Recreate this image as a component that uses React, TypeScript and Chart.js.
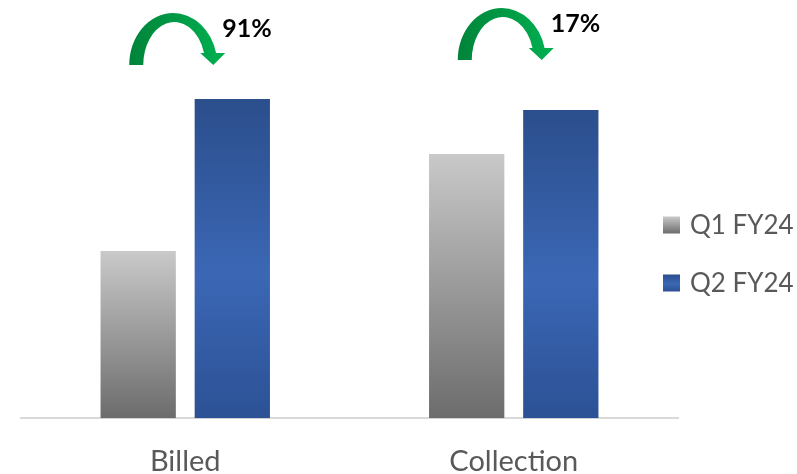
import React, { useEffect, useRef } from "react";
import { Chart, registerables } from "chart.js";

Chart.register(...registerables);

// ---- Data ----
const categories = ["Billed", "Collection"];
const seriesNames = ["Q1 FY24", "Q2 FY24"];
const q1Values = [167, 264];
const q2Values = [319, 308];
const growthLabels = ["91%", "17%"];
const yMax = 338;

// ---- Style ----
const FONT = "Lato, 'Open Sans', sans-serif";
const TEXT_GREY = "#595959";
const grayStops: [number, string][] = [
  [0, "#C9C9C9"],
  [1, "#6C6C6C"],
];
const blueStops: [number, string][] = [
  [0, "#2B4E8C"],
  [0.55, "#3B67B5"],
  [1, "#2C5195"],
];
const arrowBottoms = [65, 60];
const legendRows = [225, 283];

const makeFill = (stops: [number, string][]) => (context: any) => {
  const chart = context.chart;
  const { ctx, chartArea, scales } = chart;
  if (!chartArea || context.type !== "data" || !scales.y) return stops[0][1];
  const top = scales.y.getPixelForValue(context.raw);
  const bottom = scales.y.getPixelForValue(0);
  const g = ctx.createLinearGradient(0, top, 0, bottom);
  stops.forEach(([o, c]) => g.addColorStop(o, c));
  return g;
};

function drawArrow(ctx: CanvasRenderingContext2D, cx: number, by: number) {
  const a1 = 2 * Math.PI - Math.asin(12 / 52);
  const a2 = 2 * Math.PI - Math.asin(12 / 43);
  ctx.save();
  ctx.beginPath();
  ctx.ellipse(cx, by, 44, 52, 0, Math.PI, a1, false);
  ctx.lineTo(cx + 52, by - 12);
  ctx.lineTo(cx + 40, by);
  ctx.lineTo(cx + 27, by - 12);
  ctx.ellipse(cx + 1, by, 31, 43, 0, a2, Math.PI, true);
  ctx.closePath();
  const g = ctx.createLinearGradient(cx - 44, 0, cx + 52, 0);
  g.addColorStop(0, "#00843A");
  g.addColorStop(1, "#00B050");
  ctx.fillStyle = g;
  ctx.fill();
  ctx.restore();
}

const growthPlugin = {
  id: "growthArrows",
  afterDraw(chart: any) {
    const { ctx, scales } = chart;
    const x = scales.x;
    growthLabels.forEach((label, i) => {
      const cx = x.getPixelForValue(i) - 12;
      const by = arrowBottoms[i];
      drawArrow(ctx, cx, by);
      ctx.save();
      ctx.font = `bold 25px ${FONT}`;
      ctx.fillStyle = "#000000";
      ctx.textAlign = "left";
      ctx.textBaseline = "middle";
      ctx.fillText(label, cx + 49, by - 36);
      ctx.restore();
    });
  },
};

const legendPlugin = {
  id: "sideLegend",
  afterDraw(chart: any) {
    const { ctx } = chart;
    chart.data.datasets.forEach((ds: any, i: number) => {
      const cy = legendRows[i];
      const stops = i === 0 ? grayStops : blueStops;
      const g = ctx.createLinearGradient(0, cy - 8.5, 0, cy + 8.5);
      stops.forEach(([o, c]) => g.addColorStop(o, c));
      ctx.save();
      ctx.fillStyle = g;
      ctx.fillRect(663, cy - 8.5, 17, 17);
      ctx.font = `26px ${FONT}`;
      ctx.fillStyle = TEXT_GREY;
      ctx.textAlign = "left";
      ctx.textBaseline = "middle";
      ctx.fillText(ds.label, 690, cy + 1);
      ctx.restore();
    });
  },
};

export default function App() {
  const ref = useRef<HTMLCanvasElement | null>(null);
  useEffect(() => {
    if (!ref.current) return;
    const chart = new Chart(ref.current, {
      type: "bar",
      data: {
        labels: categories,
        datasets: [
          {
            label: seriesNames[0],
            data: q1Values,
            backgroundColor: makeFill(grayStops),
            categoryPercentage: 0.573,
            barPercentage: 0.8,
          },
          {
            label: seriesNames[1],
            data: q2Values,
            backgroundColor: makeFill(blueStops),
            categoryPercentage: 0.573,
            barPercentage: 0.8,
          },
        ],
      },
      options: {
        responsive: false,
        animation: false,
        layout: { padding: { left: 21, right: 119, top: 80, bottom: -23 } },
        plugins: {
          legend: { display: false },
          tooltip: { enabled: false },
        },
        scales: {
          x: {
            grid: { display: false },
            border: { display: true, color: "#D9D9D9", width: 2 },
            ticks: {
              color: TEXT_GREY,
              font: { family: FONT, size: 29, lineHeight: 1.2 },
              padding: 18,
            },
          },
          y: {
            display: false,
            min: 0,
            max: yMax,
          },
        },
      },
      plugins: [growthPlugin, legendPlugin],
    });
    return () => chart.destroy();
  }, []);
  return (
    <div style={{ position: "absolute", left: 0, top: 0, width: 797, height: 474 }}>
      <canvas ref={ref} width={797} height={474} style={{ display: "block" }} />
    </div>
  );
}
